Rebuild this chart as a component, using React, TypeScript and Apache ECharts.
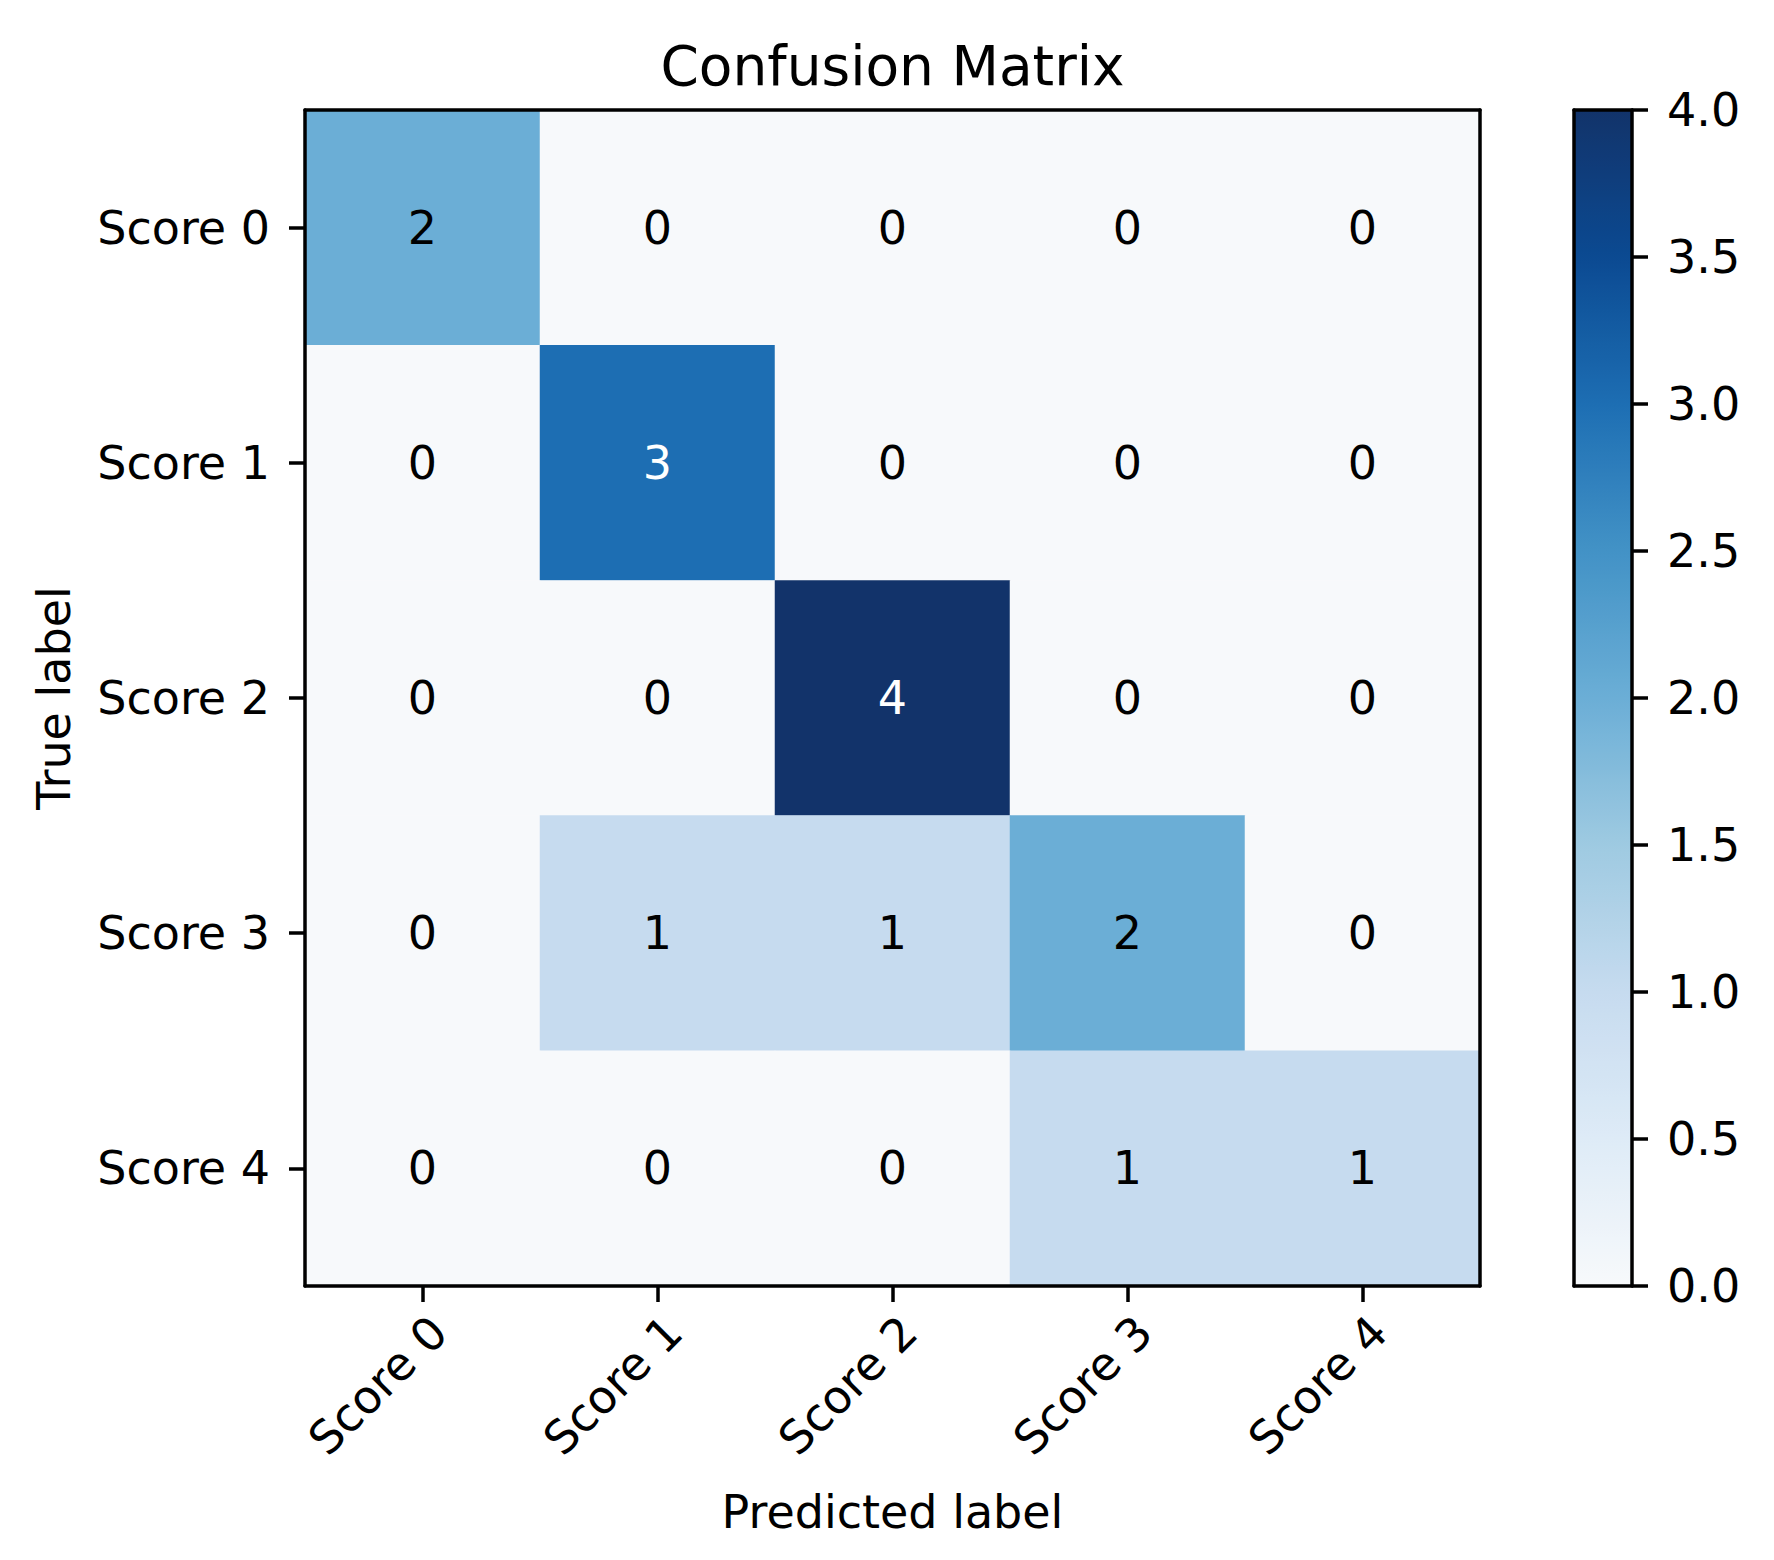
import React, { useEffect, useRef } from "react";
import * as echarts from "echarts";

const predictedLabels = ["Score 0", "Score 1", "Score 2", "Score 3", "Score 4"];
const trueLabels = ["Score 0", "Score 1", "Score 2", "Score 3", "Score 4"];
const row0 = [2, 0, 0, 0, 0];
const row1 = [0, 3, 0, 0, 0];
const row2 = [0, 0, 4, 0, 0];
const row3 = [0, 1, 1, 2, 0];
const row4 = [0, 0, 0, 1, 1];
const matrix = [row0, row1, row2, row3, row4];
const colorbarMin = 0;
const colorbarMax = 4;
const colorbarStep = 0.5;
const bluesStops = ["#f7f9fb", "#deebf7", "#c6dbef", "#9ecae1", "#6baed6", "#4292c6", "#1d6eb3", "#0b4a92", "#12336a"];

const FONT = "DejaVu Sans";
const LBL = 46;

export default function App() {
  const ref = useRef<HTMLDivElement>(null);
  useEffect(() => {
    if (!ref.current) return;
    const chart = echarts.init(ref.current, null, { renderer: "svg" });
    const maxV = Math.max(...matrix.flat());
    const thresh = maxV / 2;
    const data: any[] = [];
    matrix.forEach((row, i) =>
      row.forEach((v, j) => {
        data.push({ value: [j, i, v], label: { color: v > thresh ? "#ffffff" : "#000000" } });
      })
    );
    const lineStyle = { color: "#000", width: 3.5 };
    const gx = { left: 305, top: 110, width: 1175, height: 1176 };
    const gc = { left: 1574, top: 110, width: 58, height: 1176 };
    chart.setOption({
      animation: false,
      backgroundColor: "#ffffff",
      textStyle: { fontFamily: FONT },
      grid: [
        { ...gx, containLabel: false },
        { ...gc, containLabel: false },
      ],
      xAxis: [
        {
          type: "category",
          gridIndex: 0,
          data: predictedLabels,
          position: "bottom",
          z: 10,
          axisLine: { show: true, lineStyle },
          axisTick: { show: true, alignWithLabel: true, length: 16, lineStyle },
          axisLabel: {
            rotate: 45,
            align: "right",
            verticalAlign: "top",
            margin: 22,
            fontSize: LBL,
            fontFamily: FONT,
            color: "#000",
            interval: 0,
          },
          splitLine: { show: false },
        },
        {
          type: "category",
          gridIndex: 0,
          data: predictedLabels,
          position: "top",
          z: 10,
          axisLine: { show: true, lineStyle },
          axisTick: { show: false },
          axisLabel: { show: false },
          splitLine: { show: false },
        },
        {
          type: "value",
          gridIndex: 1,
          min: 0,
          max: 1,
          position: "bottom",
          z: 10,
          axisLine: { show: true, onZero: false, lineStyle },
          axisTick: { show: false },
          axisLabel: { show: false },
          splitLine: { show: false },
        },
        {
          type: "value",
          gridIndex: 1,
          min: 0,
          max: 1,
          position: "top",
          z: 10,
          axisLine: { show: true, onZero: false, lineStyle },
          axisTick: { show: false },
          axisLabel: { show: false },
          splitLine: { show: false },
        },
      ],
      yAxis: [
        {
          type: "category",
          gridIndex: 0,
          data: trueLabels,
          inverse: true,
          position: "left",
          z: 10,
          axisLine: { show: true, lineStyle },
          axisTick: { show: true, alignWithLabel: true, length: 16, lineStyle },
          axisLabel: { margin: 35, fontSize: LBL, fontFamily: FONT, color: "#000", interval: 0 },
          splitLine: { show: false },
        },
        {
          type: "category",
          gridIndex: 0,
          data: trueLabels,
          inverse: true,
          position: "right",
          z: 10,
          axisLine: { show: true, lineStyle },
          axisTick: { show: false },
          axisLabel: { show: false },
          splitLine: { show: false },
        },
        {
          type: "value",
          gridIndex: 1,
          min: colorbarMin,
          max: colorbarMax,
          interval: colorbarStep,
          position: "right",
          z: 10,
          axisLine: { show: true, onZero: false, lineStyle },
          axisTick: { show: true, length: 16, lineStyle },
          axisLabel: {
            margin: 35,
            fontSize: LBL,
            fontFamily: FONT,
            color: "#000",
            formatter: (v: number) => v.toFixed(1),
          },
          splitLine: { show: false },
        },
        {
          type: "value",
          gridIndex: 1,
          min: colorbarMin,
          max: colorbarMax,
          position: "left",
          z: 10,
          axisLine: { show: true, onZero: false, lineStyle },
          axisTick: { show: false },
          axisLabel: { show: false },
          splitLine: { show: false },
        },
      ],
      visualMap: {
        type: "continuous",
        min: colorbarMin,
        max: colorbarMax,
        calculable: false,
        realtime: false,
        orient: "vertical",
        left: gc.left,
        top: gc.top,
        itemWidth: gc.width,
        itemHeight: gc.height,
        padding: 0,
        text: null,
        showLabel: false,
        inRange: { color: bluesStops },
        seriesIndex: 0,
        hoverLink: false,
      },
      graphic: [
        {
          type: "text",
          x: 892.5,
          y: 66,
          style: { text: "Confusion Matrix", fontSize: 55, fontFamily: FONT, fill: "#000", align: "center", verticalAlign: "middle" },
        },
        {
          type: "text",
          x: 892.5,
          y: 1512,
          style: { text: "Predicted label", fontSize: LBL, fontFamily: FONT, fill: "#000", align: "center", verticalAlign: "middle" },
        },
        {
          type: "text",
          x: 54,
          y: 698,
          rotation: Math.PI / 2,
          style: { text: "True label", fontSize: LBL, fontFamily: FONT, fill: "#000", align: "center", verticalAlign: "middle" },
        },
      ],
      series: [
        {
          type: "heatmap",
          xAxisIndex: 0,
          yAxisIndex: 0,
          data,
          label: { show: true, fontSize: LBL, fontFamily: FONT, formatter: (p: any) => String(p.value[2]) },
          itemStyle: { borderWidth: 0 },
          emphasis: { disabled: true },
        },
      ],
    });
    return () => chart.dispose();
  }, []);
  return <div ref={ref} style={{ position: "absolute", left: 0, top: 0, width: 1774, height: 1560 }} />;
}
